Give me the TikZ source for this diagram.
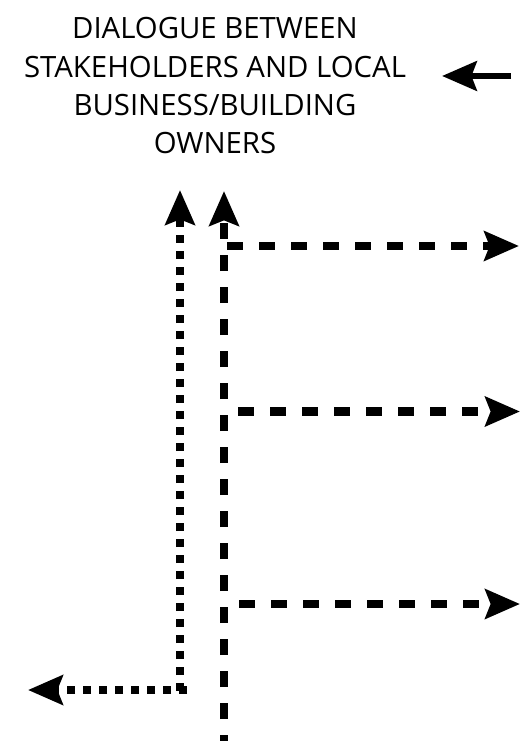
\documentclass[tikz,border=0pt]{standalone}
\usepackage{fontspec}
\setmainfont{Open Sans}
\usetikzlibrary{arrows.meta}
\begin{document}
\begin{tikzpicture}[x=0.75pt,y=-0.75pt,
  tip/.style={-{Stealth[length=26pt,width=22pt,inset=4pt]}},
  dashline/.style={line width=6.2pt, dash pattern=on 12pt off 12pt},
  dotline/.style={line width=6.2pt, dash pattern=on 6pt off 6pt},
  title/.style={align=center, anchor=base, inner sep=0pt,
    font=\fontsize{22}{28.75}\selectfont},
]
\useasboundingbox (0,0) rectangle (522,741);

% heading (anchored on the baseline of its last line)
\node[title] (dialogue) at (215,154)
  {DIALOGUE BETWEEN\\STAKEHOLDERS AND LOCAL\\BUSINESS/BUILDING\\OWNERS};

% incoming arrow at the right of the heading
\coordinate (inStart) at (511,76);
\coordinate (inTip) at (442,76);
\draw[line width=5pt, tip] (inStart) -- (inTip);

% dotted L-shaped connector
\coordinate (dotCornerV) at (180,691);
\coordinate (dotCornerH) at (187,690);
\coordinate (dotUp) at (180,190);
\coordinate (dotLeft) at (28,690);
\draw[dotline, tip] (dotCornerV) -- (dotUp);
\draw[dotline, tip] (dotCornerH) -- (dotLeft);

% dashed trunk with its three branches
\coordinate (trunkBase) at (224,751);
\coordinate (trunkTip) at (224,191);
\draw[dashline, tip] (trunkBase) -- (trunkTip);

\coordinate (b1s) at (227,246);   \coordinate (b1e) at (519,246);
\coordinate (b2s) at (238,411.5); \coordinate (b2e) at (520,411.5);
\coordinate (b3s) at (239,604);   \coordinate (b3e) at (520,604);
\draw[dashline, tip] (b1s) -- (b1e);
\draw[dashline, tip] (b2s) -- (b2e);
\draw[dashline, tip] (b3s) -- (b3e);
\end{tikzpicture}
\end{document}
